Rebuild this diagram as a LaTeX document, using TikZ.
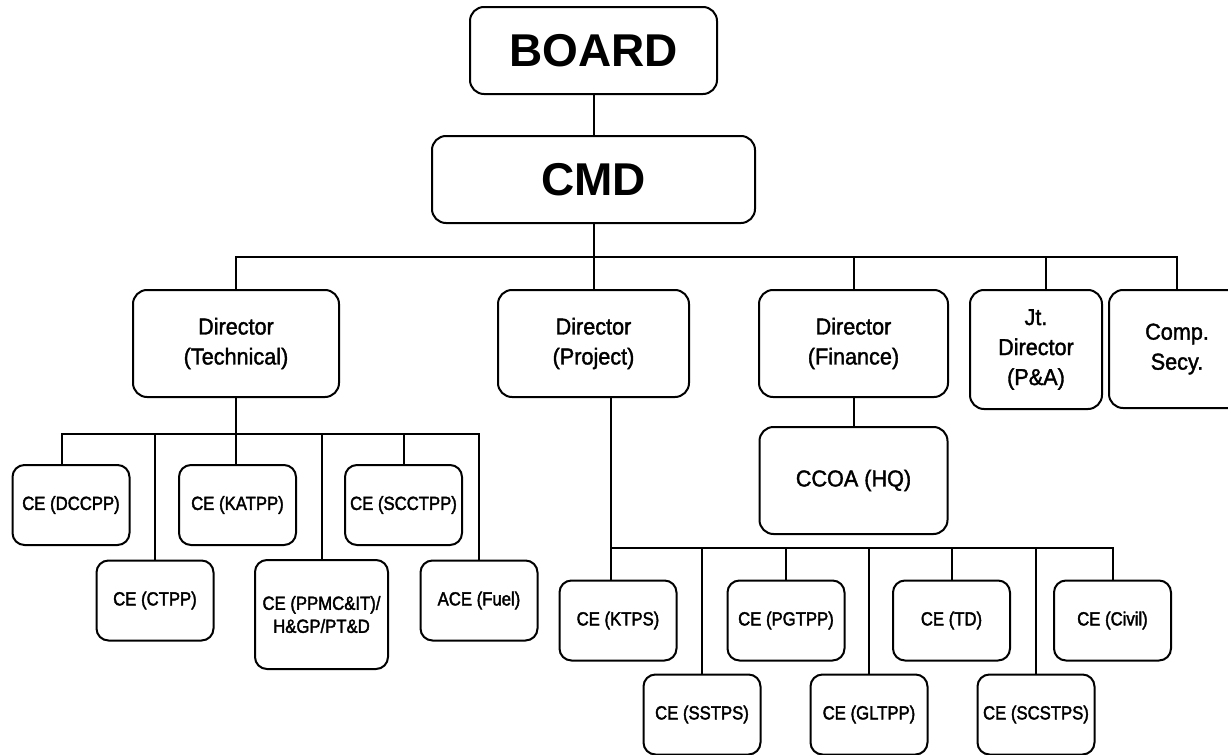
\documentclass[tikz,border=0pt]{standalone}
\usepackage{fontspec}
\setmainfont{Liberation Sans}
\newfontfamily\narrowfont[FakeStretch=0.88,FakeBold=2]{Liberation Sans}
\newfontfamily\dirfont[FakeStretch=0.94,FakeBold=1.6]{Liberation Sans}
\usetikzlibrary{positioning}

\begin{document}
\begin{tikzpicture}[
  x=0.5pt,y=-0.5pt,
  box/.style={draw,line width=1pt,rounded corners=7pt,align=center,inner sep=1pt,fill=white},
  head/.style={box,font=\bfseries\fontsize{23}{26}\selectfont,minimum height=43.5pt},
  dir/.style={box,font=\dirfont\fontsize{11.5}{15}\selectfont,minimum height=53.5pt},
  ce/.style={box,rounded corners=6pt,font=\narrowfont\fontsize{9.5}{11.5}\selectfont,minimum width=58.5pt,minimum height=40pt},
  link/.style={line width=1pt}
]
\clip (0,0) rectangle (1228,755);
% top of the chart
\node[head,minimum width=123.5pt] (board) at (593.5,50.5) {BOARD};
\node[head,minimum width=161.5pt] (cmd) at (593.5,179.5) {CMD};
\coordinate (top bus) at (593.5,257);
\node[dir,minimum width=103pt] (dtech) at (236,343.5) {Director\\(Technical)};
\node[dir,minimum width=95.5pt] (dproj) at (593.5,343.5) {Director\\(Project)};
\node[dir,minimum width=94.5pt] (dfin) at (853.5,343.5) {Director\\(Finance)};
\node[dir,minimum width=66pt,minimum height=59.5pt] (jtdir) at (1036,349.5) {Jt.\\Director\\(P\&A)};
\node[dir,minimum width=68pt,minimum height=59pt] (csecy) at (1177,349) {Comp.\\Secy.};
\node[dir,minimum width=94pt] (ccoa) at (853.5,480.5) {CCOA (HQ)};
% technical wing
\coordinate (tech bus) at (236,434);
\node[ce] (dccpp) at (71,505) {CE (DCCPP)};
\node[ce] (ctpp) at (155,600.5) {CE (CTPP)};
\node[ce] (katpp) at (237.5,505) {CE (KATPP)};
\node[ce,minimum width=66.5pt,minimum height=54.5pt] (ppmc) at (321.5,614.5) {CE (PPMC\&IT)/\\H\&GP/PT\&D};
\node[ce] (scctpp) at (403.5,505) {CE (SCCTPP)};
\node[ce] (acefuel) at (479,600.5) {ACE (Fuel)};
% project wing
\coordinate (proj bus) at (611,548);
\node[ce] (ktps) at (618,620.5) {CE (KTPS)};
\node[ce] (sstps) at (702,714.5) {CE (SSTPS)};
\node[ce] (pgtpp) at (786,620.5) {CE (PGTPP)};
\node[ce] (gltpp) at (869,714.5) {CE (GLTPP)};
\node[ce] (td) at (951.5,620.5) {CE (TD)};
\node[ce] (scstps) at (1036,714.5) {CE (SCSTPS)};
\node[ce] (civil) at (1112.5,620.5) {CE (Civil)};
% connectors
\draw[link] (board) -- (cmd);
\draw[link] (cmd) -- (top bus);
\draw[link] (dtech.north) -- (dtech.north |- top bus) -- (csecy.north |- top bus) -- (csecy.north);
\foreach \n in {dproj,dfin}
  \draw[link] (\n.north) -- (\n.north |- top bus);
\draw[link] ([xshift=5pt]jtdir.north) -- ([xshift=5pt]jtdir.north |- top bus);
\draw[link] (dfin) -- (ccoa);
\draw[link] (dtech.south) -- (dtech.south |- katpp.north);
\draw[link] ([xshift=-4.5pt]dccpp.north) -- ([xshift=-4.5pt]dccpp.north |- tech bus) -- (acefuel.north |- tech bus) -- (acefuel.north);
\foreach \n in {ctpp,ppmc,scctpp}
  \draw[link] (\n.north) -- (\n.north |- tech bus);
\draw[link] (proj bus |- dproj.south) -- (proj bus |- ktps.north);
\draw[link] (proj bus) -- (civil.north |- proj bus) -- (civil.north);
\foreach \n in {sstps,pgtpp,gltpp,td,scstps}
  \draw[link] (\n.north) -- (\n.north |- proj bus);
\end{tikzpicture}
\end{document}
